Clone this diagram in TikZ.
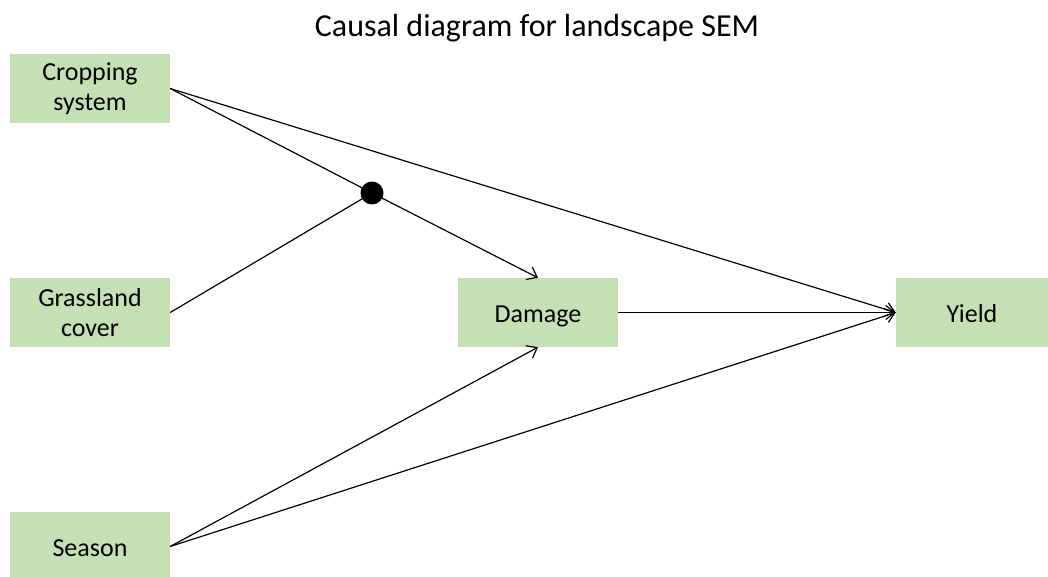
\documentclass[tikz,border=0pt]{standalone}
\usepackage{fontspec}
\setmainfont{Carlito}
\usetikzlibrary{arrows.meta}
\begin{document}
\begin{tikzpicture}[x=1bp,y=-1bp,
  box/.style={fill=boxgreen,draw=none,minimum width=160bp,minimum height=69bp,align=center,inner sep=0pt,font=\fontsize{26bp}{30bp}\selectfont},
  single/.style={text height=21bp,text depth=2bp},
  conn/.style={line width=1.2bp,black},
  arr/.style={conn,-{Straight Barb[length=9bp,width=14bp,line width=1.2bp]}}]
\definecolor{boxgreen}{HTML}{C5E0B4}
\useasboundingbox (0,0) rectangle (1048,577);
\node[font=\fontsize{32bp}{36bp}\selectfont,anchor=base] (title) at (537,37) {Causal diagram for landscape SEM};
\node[box] (crop) at (90,88.5) {Cropping\\system};
\node[box] (grass) at (90,312.5) {Grassland\\cover};
\node[box,single] (season) at (90,546.5) {Season};
\node[box,single] (damage) at (538,312.5) {Damage};
\node[box,single,minimum width=152bp] (yield) at (972,312.5) {Yield};
\node[circle,fill=black,minimum size=23bp,inner sep=0pt] (dot) at (372,193) {};
\draw[conn] (crop.east) -- (dot.center);
\draw[conn] (grass.east) -- (dot.center);
\draw[arr] (dot.center) -- (damage.north);
\draw[arr] (crop.east) -- (yield.west);
\draw[arr] (damage.east) -- (yield.west);
\draw[arr] (season.east) -- (damage.south);
\draw[arr] (season.east) -- (yield.west);
\end{tikzpicture}
\end{document}
